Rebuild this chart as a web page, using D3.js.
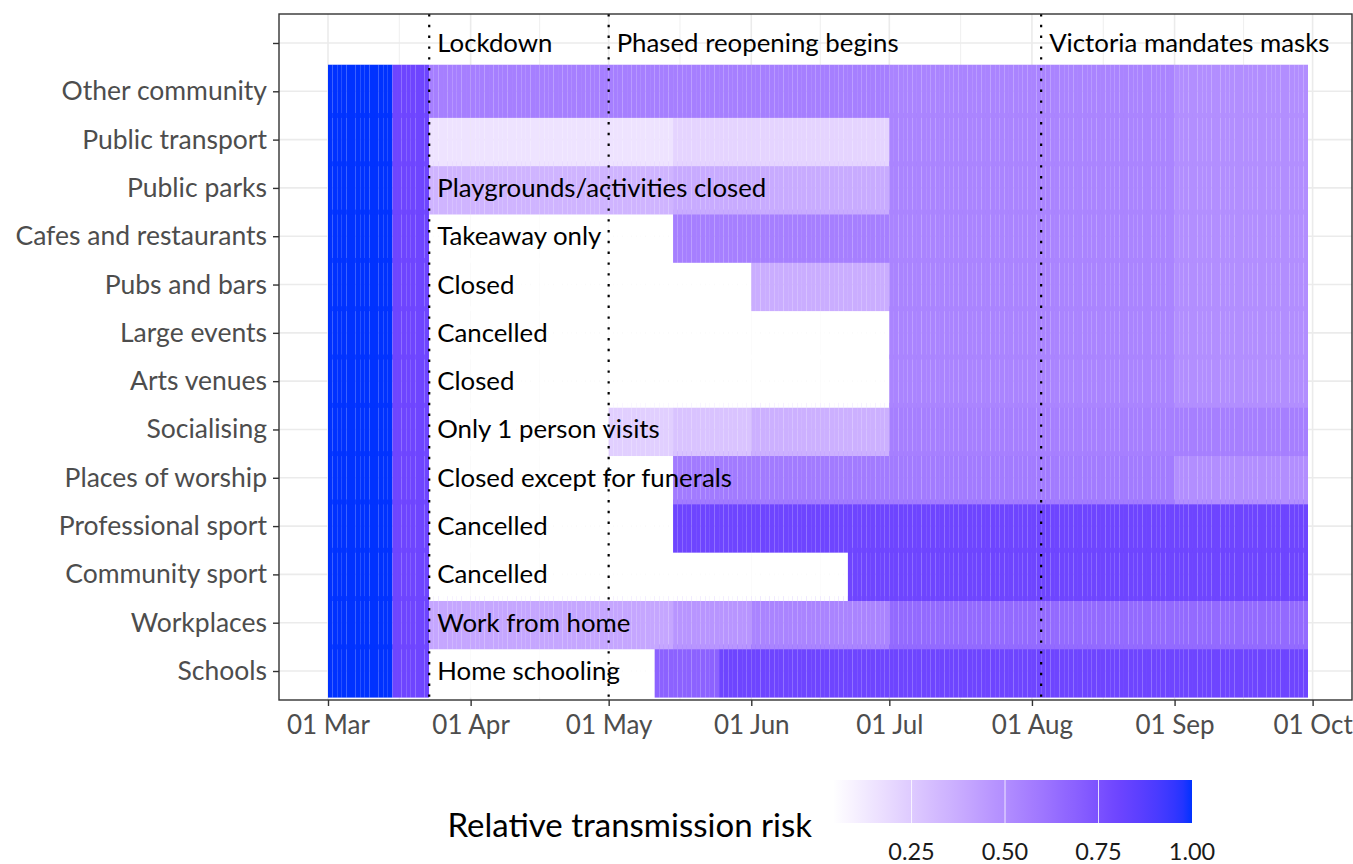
<!DOCTYPE html>
<html>
<head>
<meta charset="utf-8">
<script src="https://cdn.jsdelivr.net/npm/d3@7"></script>
<style>
  body { margin: 0; background: #fff; }
  svg { display: block; font-family: Lato, "Open Sans", sans-serif; }
</style>
</head>
<body>
<script>
// rows top to bottom, "" is the empty top row that holds the event labels
var categories = ["", "Other community", "Public transport", "Public parks", "Cafes and restaurants",
    "Pubs and bars", "Large events", "Arts venues", "Socialising", "Places of worship",
    "Professional sport", "Community sport", "Workplaces", "Schools"];

// start of each restriction period, last entry is the (exclusive) end of the data
var periodStarts = ["2020-03-01", "2020-03-15", "2020-03-23", "2020-05-01", "2020-05-11", "2020-05-15",
    "2020-05-25", "2020-06-01", "2020-06-22", "2020-07-01", "2020-09-01", "2020-09-30"];

// relative transmission risk for each period (one value per period)
var otherCommunity    = [1, 0.8, 0.56, 0.56, 0.56, 0.56, 0.56, 0.56, 0.56, 0.54, 0.50];
var publicTransport   = [1, 0.8, 0.15, 0.15, 0.15, 0.21, 0.21, 0.21, 0.21, 0.54, 0.50];
var publicParks       = [1, 0.8, 0.34, 0.34, 0.34, 0.38, 0.38, 0.38, 0.38, 0.54, 0.50];
var cafes             = [1, 0.8, 0.04, 0.04, 0.04, 0.56, 0.56, 0.56, 0.56, 0.54, 0.50];
var pubs              = [1, 0.8, 0.04, 0.04, 0.04, 0.04, 0.04, 0.37, 0.37, 0.54, 0.50];
var largeEvents       = [1, 0.8, 0.04, 0.04, 0.04, 0.04, 0.04, 0.04, 0.04, 0.54, 0.50];
var artsVenues        = [1, 0.8, 0.04, 0.04, 0.04, 0.04, 0.04, 0.04, 0.04, 0.54, 0.50];
var socialising       = [1, 0.8, 0.04, 0.23, 0.23, 0.28, 0.28, 0.36, 0.36, 0.56, 0.56];
var worship           = [1, 0.8, 0.04, 0.04, 0.04, 0.58, 0.58, 0.58, 0.58, 0.58, 0.50];
var proSport          = [1, 0.8, 0.04, 0.04, 0.04, 0.80, 0.80, 0.80, 0.80, 0.80, 0.80];
var communitySport    = [1, 0.8, 0.04, 0.04, 0.04, 0.04, 0.04, 0.04, 0.80, 0.80, 0.80];
var workplaces        = [1, 0.8, 0.40, 0.40, 0.40, 0.47, 0.47, 0.54, 0.54, 0.65, 0.65];
var schools           = [1, 0.8, 0.04, 0.04, 0.68, 0.68, 0.80, 0.80, 0.80, 0.80, 0.80];

var riskRows = [otherCommunity, publicTransport, publicParks, cafes, pubs, largeEvents, artsVenues,
    socialising, worship, proSport, communitySport, workplaces, schools];

// colour scale stops (white to blue)
var riskStops  = [0.04, 0.8, 1];
var riskColors = ["#ffffff", "#6e45ff", "#0032ff"];

// vertical event markers
var eventDates  = ["2020-03-23", "2020-05-01", "2020-08-03"];
var eventLabels = ["Lockdown", "Phased reopening begins", "Victoria mandates masks"];

// notes written inside the rows, starting at lockdown
var noteCategories = ["Public parks", "Cafes and restaurants", "Pubs and bars", "Large events", "Arts venues",
    "Socialising", "Places of worship", "Professional sport", "Community sport", "Workplaces", "Schools"];
var noteLabels = ["Playgrounds/activities closed", "Takeaway only", "Closed", "Cancelled", "Closed",
    "Only 1 person visits", "Closed except for funerals", "Cancelled", "Cancelled", "Work from home", "Home schooling"];

var legendTicks = [0.25, 0.50, 0.75, 1.00];

// ---------------------------------------------------------------
var width = 1353, height = 864;
var panel = {left: 279, top: 14, bottom: 700, right: 1352};

var parse = d3.utcParse("%Y-%m-%d");
var starts = periodStarts.map(parse);
var dataStart = starts[0], dataEnd = starts[starts.length - 1];
var span = dataEnd - dataStart;

// ggplot style 5% expansion on both sides
var x = d3.scaleUtc()
    .domain([new Date(+dataStart - 0.05 * span), new Date(+dataEnd + 0.05 * span)])
    .range([panel.left, panel.left + 1078]);

var y = d3.scalePoint()
    .domain(categories)
    .range([panel.top, panel.bottom])
    .padding(0.6);
var step = y.step();
var tileH = step * 1.1;   // tiles slightly taller than a row, upper rows overlap lower ones

var color = d3.scaleLinear()
    .domain(riskStops)
    .range(riskColors)
    .interpolate(d3.interpolateLab);
var minRisk = riskStops[0], maxRisk = riskStops[riskStops.length - 1];

var svg = d3.select("body").append("svg")
    .attr("width", width)
    .attr("height", height);

svg.append("defs").append("clipPath").attr("id", "panelClip")
    .append("rect")
    .attr("x", panel.left).attr("y", panel.top)
    .attr("width", panel.right - panel.left).attr("height", panel.bottom - panel.top);

var g = svg.append("g").attr("clip-path", "url(#panelClip)");

// grid lines
var majorTicks = d3.utcMonth.range(d3.utcMonth.ceil(x.domain()[0]), x.domain()[1]);
var minorTicks = [];
for (var i = 0; i < majorTicks.length - 1; i++) {
    minorTicks.push(new Date((+majorTicks[i] + +majorTicks[i + 1]) / 2));
}
g.selectAll(".minor").data(minorTicks).enter().append("line")
    .attr("x1", function (d) { return x(d); }).attr("x2", function (d) { return x(d); })
    .attr("y1", panel.top).attr("y2", panel.bottom)
    .attr("stroke", "#ebebeb").attr("stroke-width", 0.8);
g.selectAll(".majorx").data(majorTicks).enter().append("line")
    .attr("x1", function (d) { return x(d); }).attr("x2", function (d) { return x(d); })
    .attr("y1", panel.top).attr("y2", panel.bottom)
    .attr("stroke", "#ebebeb").attr("stroke-width", 1.6);
g.selectAll(".majory").data(categories).enter().append("line")
    .attr("x1", panel.left).attr("x2", panel.right)
    .attr("y1", function (d) { return y(d); }).attr("y2", function (d) { return y(d); })
    .attr("stroke", "#ebebeb").attr("stroke-width", 1.6);

// one tile per day, bottom row drawn first
var tiles = [];
riskRows.forEach(function (row, r) {
    var cat = categories[r + 1];
    for (var p = 0; p < row.length; p++) {
        d3.utcDay.range(starts[p], starts[p + 1]).forEach(function (day) {
            tiles.push({cat: cat, row: r, day: day, risk: row[p]});
        });
    }
});
tiles.sort(function (a, b) { return b.row - a.row; });

g.selectAll(".tile").data(tiles).enter().append("rect")
    .attr("x", function (d) { return x(d.day); })
    .attr("width", function (d) { return x(d3.utcDay.offset(d.day, 1)) - x(d.day); })
    .attr("y", function (d) { return y(d.cat) - tileH / 2; })
    .attr("height", tileH)
    .attr("fill", function (d) { return color(d.risk); });

// event lines
var events = eventDates.map(function (d, i) { return {date: parse(d), label: eventLabels[i]}; });
g.selectAll(".event").data(events).enter().append("line")
    .attr("x1", function (d) { return x(d.date); }).attr("x2", function (d) { return x(d.date); })
    .attr("y1", panel.top).attr("y2", panel.bottom)
    .attr("stroke", "#000").attr("stroke-width", 2.2)
    .attr("stroke-dasharray", "2.4 8.4");

svg.selectAll(".eventLabel").data(events).enter().append("text")
    .attr("x", function (d) { return x(d.date) + 8; })
    .attr("y", y("") + 9)
    .attr("font-size", 25.8)
    .attr("fill", "#000")
    .text(function (d) { return d.label; });

// notes inside rows
var noteX = x(parse(eventDates[0])) + 8;
svg.selectAll(".note").data(noteCategories).enter().append("text")
    .attr("x", noteX)
    .attr("y", function (d) { return y(d) + 9; })
    .attr("font-size", 25.8)
    .attr("fill", "#000")
    .text(function (d, i) { return noteLabels[i]; });

// panel border
svg.append("rect")
    .attr("x", panel.left).attr("y", panel.top)
    .attr("width", panel.right - panel.left).attr("height", panel.bottom - panel.top)
    .attr("fill", "none").attr("stroke", "#333").attr("stroke-width", 1.4);

// axes
var yAxis = svg.append("g")
    .attr("transform", "translate(" + panel.left + ",0)")
    .call(d3.axisLeft(y).tickSize(6).tickPadding(6));
var xAxis = svg.append("g")
    .attr("transform", "translate(0," + panel.bottom + ")")
    .call(d3.axisBottom(x).tickValues(majorTicks.filter(function (d) { return x(d) < panel.right; }))
        .tickFormat(d3.utcFormat("%d %b")).tickSize(6).tickPadding(10));

[yAxis, xAxis].forEach(function (a) {
    a.select(".domain").remove();
    a.selectAll(".tick line").attr("stroke", "#333").attr("stroke-width", 1.4);
    a.selectAll(".tick text").attr("fill", "#4d4d4d").attr("font-size", 26.5)
        .attr("font-family", "Lato, sans-serif");
});
xAxis.selectAll(".tick text").attr("font-size", 26).attr("dy", "0.71em");

// legend
var lx = d3.scaleLinear().domain([minRisk, maxRisk]).range([833, 1192]);
var legTop = 780, legH = 43;
var grad = svg.select("defs").append("linearGradient").attr("id", "riskGrad");
d3.range(0, 1.0001, 0.025).forEach(function (t) {
    grad.append("stop")
        .attr("offset", (t * 100) + "%")
        .attr("stop-color", color(minRisk + t * (maxRisk - minRisk)));
});
svg.append("rect")
    .attr("x", lx.range()[0]).attr("y", legTop)
    .attr("width", lx.range()[1] - lx.range()[0]).attr("height", legH)
    .attr("fill", "url(#riskGrad)");
svg.selectAll(".legTick").data(legendTicks.slice(0, 3)).enter().append("line")
    .attr("x1", function (d) { return lx(d); }).attr("x2", function (d) { return lx(d); })
    .attr("y1", legTop).attr("y2", legTop + legH)
    .attr("stroke", "#fff").attr("stroke-opacity", 0.8).attr("stroke-width", 1);
svg.selectAll(".legLabel").data(legendTicks).enter().append("text")
    .attr("x", function (d) { return lx(d); })
    .attr("y", 860)
    .attr("text-anchor", "middle")
    .attr("font-size", 23.5)
    .attr("fill", "#1a1a1a")
    .text(function (d) { return d3.format(".2f")(d); });
svg.append("text")
    .attr("x", 812).attr("y", 837)
    .attr("text-anchor", "end")
    .attr("font-size", 33)
    .attr("fill", "#000")
    .text("Relative transmission risk");
</script>
</body>
</html>
